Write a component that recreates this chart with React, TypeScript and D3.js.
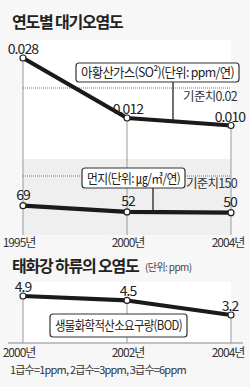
import React, { useRef, useEffect } from 'react'
import * as d3 from 'd3'

// 연도별 대기오염도
const airYears = ['1995년', '2000년', '2004년']
const so2Values = [0.028, 0.012, 0.010]
const so2Labels = ['0.028', '0.012', '0.010']
const so2Standard = 0.02
const dustValues = [69, 52, 50]
const dustStandard = 150

// 태화강 하류의 오염도
const riverYears = ['2000년', '2002년', '2004년']
const bodValues = [4.9, 4.5, 3.2]
const bodLabels = ['4.9', '4.5', '3.2']

const FONT = '"Noto Sans CJK KR", "Noto Sans", sans-serif'

const App = () => {
  const svgRef = useRef<SVGSVGElement>(null)

  useEffect(() => {
    const svg = d3.select(svgRef.current)
    svg.selectAll('*').remove()

    const x = d3.scaleLinear().domain([0, 2]).range([23, 231])
    const ySo2 = d3.scaleLinear().domain([0, 0.028]).range([163, 58])
    const yDust = d3.scaleLinear().domain([0, 150]).range([231, 176])
    const yBod = d3.scaleLinear().domain([0, 4.9]).range([350.8, 296])

    svg.append('rect').attr('width', 250).attr('height', 387).attr('fill', '#f7f7f7')
    // plot backgrounds
    svg.append('rect').attr('x', x(0)).attr('y', 40).attr('width', x(2) - x(0)).attr('height', 119).attr('fill', '#fff')
    svg.append('rect').attr('x', x(0)).attr('y', 159).attr('width', x(2) - x(0)).attr('height', 76).attr('fill', '#efefef')
    svg.append('rect').attr('x', x(0)).attr('y', 282).attr('width', x(2) - x(0)).attr('height', 61).attr('fill', '#fff')

    // titles
    svg.append('text').attr('x', 12).attr('y', 28).text('연도별 대기오염도')
      .attr('font-family', FONT).attr('font-size', 16).attr('font-weight', 700).attr('fill', '#222')
      .attr('letter-spacing', -1.2)
    svg.append('text').attr('x', 12).attr('y', 272).text('태화강 하류의 오염도')
      .attr('font-family', FONT).attr('font-size', 16).attr('font-weight', 700).attr('fill', '#222')
      .attr('letter-spacing', -1.2)
    svg.append('text').attr('x', 145).attr('y', 271).text('(단위: ppm)')
      .attr('font-family', FONT).attr('font-size', 10).attr('fill', '#444').attr('letter-spacing', -0.6)

    // vertical grid lines
    const grid = (vals: number[], y: d3.ScaleLinear<number, number>, bottom: number) => {
      svg.append('g').selectAll('line').data(vals).join('line')
        .attr('x1', (_, i) => x(i)).attr('x2', (_, i) => x(i))
        .attr('y1', d => y(d)).attr('y2', bottom)
        .attr('stroke', '#999').attr('stroke-width', 1)
    }
    grid(so2Values, ySo2, 235)
    grid(bodValues, yBod, 343)

    // bottom axis line for river chart
    svg.append('line').attr('x1', 8).attr('x2', 243).attr('y1', 343).attr('y2', 343)
      .attr('stroke', '#888').attr('stroke-width', 1)

    // standard lines
    const standard = (yv: number, label: string, ly: number) => {
      svg.append('line').attr('x1', x(0)).attr('x2', x(2)).attr('y1', yv).attr('y2', yv)
        .attr('stroke', '#777').attr('stroke-width', 1).attr('stroke-dasharray', '1,1')
      svg.append('text').attr('x', 237).attr('y', ly).attr('text-anchor', 'end').text(label)
        .attr('font-family', FONT).attr('font-size', 12.5).attr('fill', '#333').attr('letter-spacing', -0.7)
    }
    standard(ySo2(so2Standard), '기준치0.02', ySo2(so2Standard) + 13)
    standard(yDust(dustStandard), '기준치150', yDust(dustStandard) + 12)

    // legend boxes with pointer
    const legend = (bx: number, by: number, bw: number, bh: number, label: string, px?: number, py?: number) => {
      if (px !== undefined && py !== undefined) {
        svg.append('line').attr('x1', px).attr('x2', px).attr('y1', by + bh).attr('y2', py)
          .attr('stroke', '#222').attr('stroke-width', 1.3)
      }
      svg.append('rect').attr('x', bx).attr('y', by).attr('width', bw).attr('height', bh).attr('rx', 3)
        .attr('fill', '#fff').attr('stroke', '#333').attr('stroke-width', 1.2)
      svg.append('text').attr('x', bx + bw / 2).attr('y', by + bh / 2 + 4.8).attr('text-anchor', 'middle')
        .attr('font-family', FONT).attr('font-size', 13).attr('fill', '#222').attr('letter-spacing', -0.7)
        .attr('textLength', bw - 10).attr('lengthAdjust', 'spacingAndGlyphs')
        .text(label)
    }
    const interp = (vals: number[], y: d3.ScaleLinear<number, number>, px: number) => {
      const t = (px - x(1)) / (x(2) - x(1))
      return y(vals[1]) + t * (y(vals[2]) - y(vals[1]))
    }
    legend(76, 63, 163, 19, '아황산가스(SO²)(단위: ppm/연)', 173, interp(so2Values, ySo2, 173))
    legend(82, 168, 103, 20, '먼지(단위: ㎍/㎥/연)', 153, interp(dustValues, yDust, 153))
    legend(50, 314, 137, 23, '생물화학적산소요구량(BOD)')

    // series
    const series = (vals: number[], labels: string[], y: d3.ScaleLinear<number, number>, off: number) => {
      const ln = d3.line<number>().x((_, i) => x(i)).y(d => y(d))
      svg.append('path').datum(vals).attr('d', ln).attr('fill', 'none')
        .attr('stroke', '#1a1a1a').attr('stroke-width', 4.2).attr('stroke-linejoin', 'round')
      svg.append('g').selectAll('circle').data(vals).join('circle')
        .attr('cx', (_, i) => x(i)).attr('cy', d => y(d)).attr('r', 3)
        .attr('fill', '#fff').attr('stroke', '#222').attr('stroke-width', 1.2)
      svg.append('g').selectAll('text').data(vals).join('text')
        .attr('x', (_, i) => x(i) + (i === 0 ? 0 : i === 1 ? 1 : -1))
        .attr('y', d => y(d) - off)
        .attr('text-anchor', 'middle')
        .attr('font-family', FONT).attr('font-size', 14).attr('fill', '#222').attr('letter-spacing', -0.9)
        .text((_, i) => labels[i])
    }
    series(so2Values, so2Labels, ySo2, 4)
    series(dustValues, dustValues.map(String), yDust, 6)
    series(bodValues, bodLabels, yBod, 4)

    // x labels
    const xLabels = (labels: string[], ly: number) => {
      svg.append('g').selectAll('text').data(labels).join('text')
        .attr('x', (_, i) => x(i) + (i === 0 ? -4 : i === 2 ? -3 : 1))
        .attr('y', ly).attr('text-anchor', 'middle')
        .attr('font-family', FONT).attr('font-size', 12).attr('fill', '#333').attr('letter-spacing', -1)
        .text(d => d)
    }
    xLabels(airYears, 247)
    xLabels(riverYears, 357)

    svg.append('text').attr('x', 10).attr('y', 374).text('1급수=1ppm, 2급수=3ppm, 3급수=6ppm')
      .attr('font-family', FONT).attr('font-size', 11).attr('fill', '#333').attr('letter-spacing', -0.8)
  }, [])

  return (
    <svg ref={svgRef} width={250} height={387} style={{ position: 'absolute', left: 0, top: 0 }} />
  )
}

export default App
